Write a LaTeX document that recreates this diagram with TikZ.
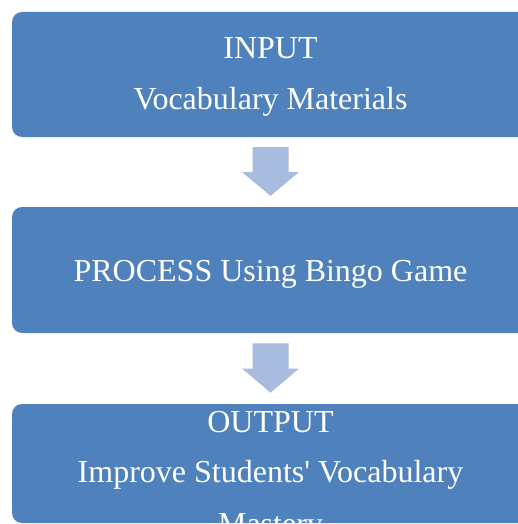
\documentclass[tikz,border=0pt]{standalone}
\usepackage{fontspec}
\setmainfont{Liberation Serif}
\usetikzlibrary{calc}
\definecolor{boxblue}{HTML}{4F81BD}
\definecolor{arrowblue}{HTML}{A7BCDF}
\begin{document}
\begin{tikzpicture}[x=1pt,y=-1pt,
  stage/.style={fill=boxblue, draw=none, rounded corners=10pt, inner sep=0pt,
                minimum width=517pt, minimum height=#1},
  label/.style={text=white, font=\fontsize{32}{38}\selectfont, anchor=base, inner sep=0pt},
  flow/.style={fill=arrowblue, draw=none}]
\useasboundingbox (0,0) rectangle (518,524);
\clip (0,0) rectangle (518,524);

% the three stages
\node[stage=125pt] (input)   at (270.5,74.5)  {};
\node[stage=126pt] (process) at (270.5,270)   {};
\node[stage=119pt] (output)  at (270.5,463.5) {};

% stage texts
\node[label] (inputA)  at (270.5,59)  {INPUT};
\node[label] (inputB)  at (270.5,110) {Vocabulary Materials};
\node[label] (procA)   at (270.5,281) {PROCESS Using Bingo Game};
\node[label] (outA)    at (270.5,432) {OUTPUT};
\node[label] (outB)    at (270.5,482) {Improve Students\textquotesingle\ Vocabulary};
\node[label] (outC)    at (270.5,534) {Mastery};

% block arrows between the stages
\foreach \a/\b in {input/process, process/output}{
  \path ($(\a.south)!0.143!(\b.north)$) coordinate (s0)
        ($(\a.south)!0.5!(\b.north)$)   coordinate (s1)
        ($(\a.south)!0.843!(\b.north)$) coordinate (s2);
  \fill[flow] ($(s0)+(-18,0)$) -- ($(s0)+(18,0)$) -- ($(s1)+(18,0)$) -- ($(s1)+(28.5,0)$)
       -- (s2) -- ($(s1)+(-28.5,0)$) -- ($(s1)+(-18,0)$) -- cycle;
}
\end{tikzpicture}
\end{document}
